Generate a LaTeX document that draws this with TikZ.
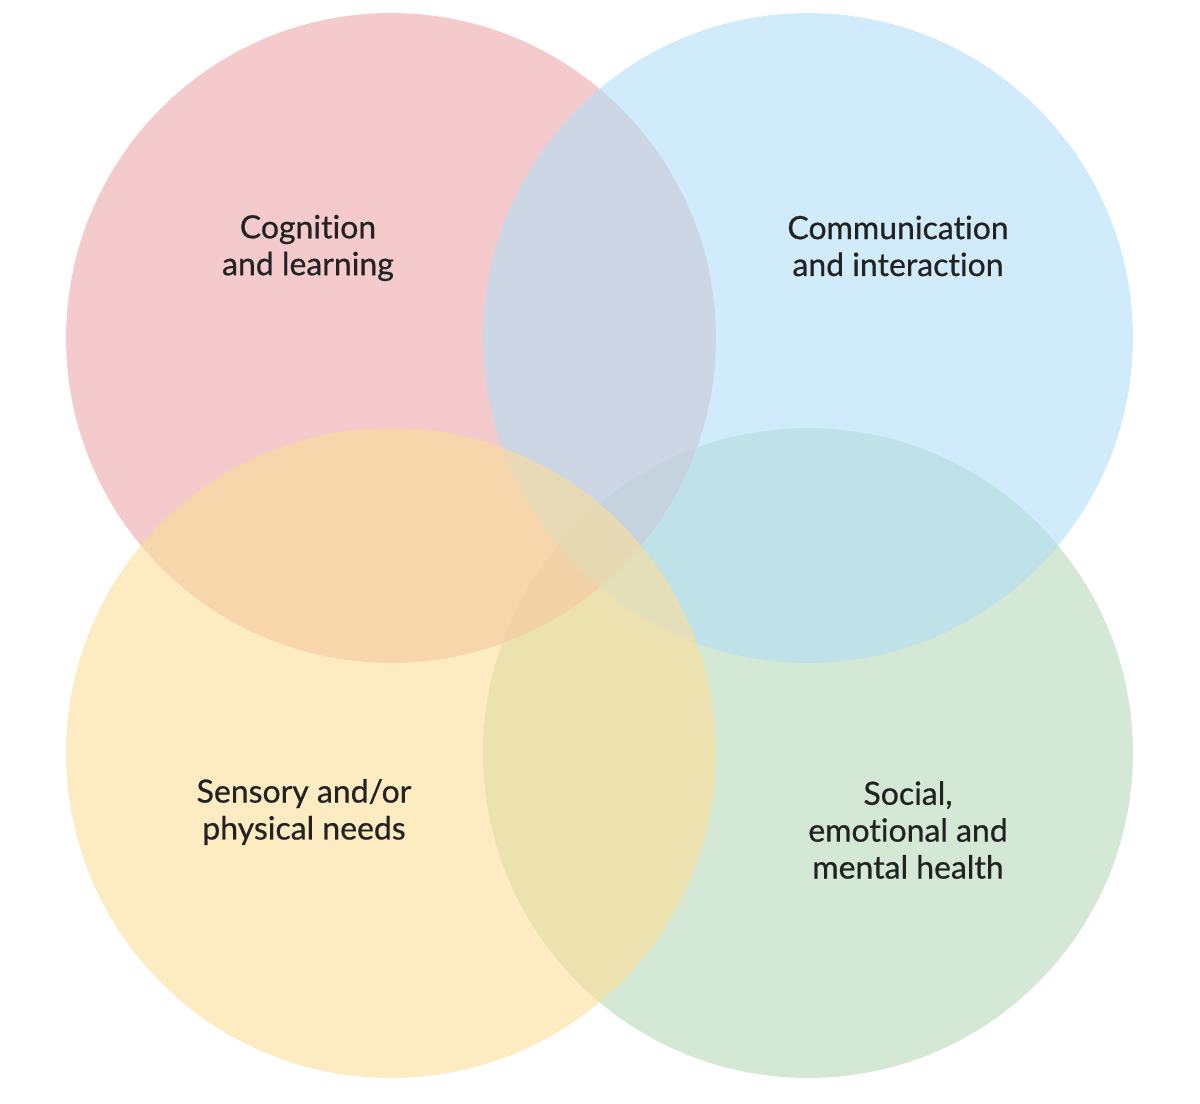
\documentclass[tikz,border=0pt]{standalone}
\usepackage{fontspec}
\setmainfont{Lato}
\newfontfamily\lblfont{Lato}[FakeBold=0.6,Ligatures=NoCommon]
\definecolor{cpink}{HTML}{EEA7AA}
\definecolor{cblue}{HTML}{B2DFF7}
\definecolor{cyellow}{HTML}{FCDE98}
\definecolor{cgreen}{HTML}{B6DAB9}
\definecolor{ctext}{HTML}{222222}
\begin{document}
\begin{tikzpicture}[x=0.02cm,y=-0.02cm,
  disc/.style={circle,minimum size=13cm,inner sep=0pt,draw=none,fill opacity=0.6},
  lbl/.style={align=center,font=\lblfont\fontsize{18.2}{21}\selectfont,text=ctext,inner sep=0pt}]
\useasboundingbox (0,0) rectangle (1200,1104);
\fill[white] (0,0) rectangle (1200,1104);
\node[disc,fill=cgreen] (green) at (808,753) {};
\node[disc,fill=cpink] (pink) at (391,338) {};
\node[disc,fill=cblue] (blue) at (808,338) {};
\node[disc,fill=cyellow] (yellow) at (391,753) {};
\node[lbl] (t1) at (308,248) {Cognition\\and learning};
\node[lbl] (t2) at (898,246) {Communication\\and interaction};
\node[lbl] (t3) at (304,812) {Sensory and/or\\physical needs};
\node[lbl] (t4) at (908,830) {Social,\\emotional and\\mental health};
\end{tikzpicture}
\end{document}
